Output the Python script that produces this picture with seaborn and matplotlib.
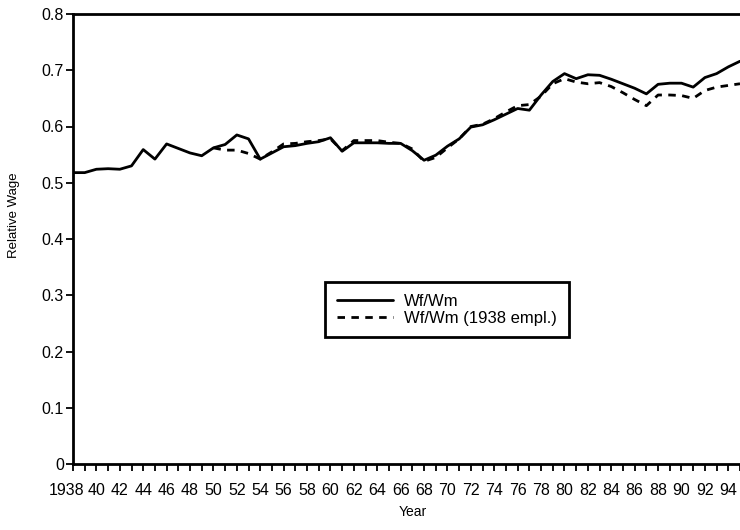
import matplotlib
matplotlib.use("Agg")
import matplotlib.pyplot as plt
import matplotlib.transforms as mtransforms
import seaborn as sns
import pandas as pd

# Relative wage of women to men
years = list(range(1938, 1996))
wf_wm = [0.518, 0.518, 0.524, 0.525, 0.524, 0.530, 0.559, 0.542, 0.569, 0.561,
         0.553, 0.548, 0.562, 0.568, 0.585, 0.578, 0.542, 0.553, 0.564, 0.566,
         0.570, 0.573, 0.580, 0.556, 0.571, 0.571, 0.571, 0.570, 0.570, 0.557,
         0.540, 0.549, 0.565, 0.578, 0.599, 0.603, 0.612, 0.622, 0.632, 0.629,
         0.656, 0.680, 0.694, 0.685, 0.692, 0.691, 0.684, 0.676, 0.668, 0.658,
         0.675, 0.677, 0.677, 0.670, 0.687, 0.694, 0.706, 0.716]

years_1938 = list(range(1950, 1996))
wf_wm_1938 = [0.562, 0.558, 0.558, 0.552, 0.542, 0.555, 0.569, 0.570, 0.573, 0.575,
              0.578, 0.557, 0.575, 0.575, 0.575, 0.572, 0.570, 0.560, 0.538, 0.545,
              0.562, 0.578, 0.600, 0.604, 0.614, 0.626, 0.637, 0.639, 0.654, 0.676,
              0.685, 0.679, 0.676, 0.678, 0.671, 0.660, 0.648, 0.637, 0.656, 0.656,
              0.655, 0.650, 0.664, 0.670, 0.673, 0.676]

y_ticks = [0, 0.1, 0.2, 0.3, 0.4, 0.5, 0.6, 0.7, 0.8]
y_labels = ["0", "0.1", "0.2", "0.3", "0.4", "0.5", "0.6", "0.7", "0.8"]
x_major = list(range(1938, 1996, 2))
x_labels = ["1938"] + [str(y)[2:] for y in x_major[1:]]

sns.set_theme(style="ticks", rc={"text.color": "black", "axes.labelcolor": "black",
                                 "xtick.color": "black", "ytick.color": "black"})
plt.rcParams["font.family"] = ["Liberation Sans", "DejaVu Sans"]

df1 = pd.DataFrame({"year": years, "value": wf_wm})
df2 = pd.DataFrame({"year": years_1938, "value": wf_wm_1938})

fig = plt.figure(figsize=(7.4, 5.3), dpi=100)
ax = fig.add_axes([73 / 740, 66 / 530, 667 / 740, 450 / 530])

sns.lineplot(data=df1, x="year", y="value", ax=ax, color="black",
             linewidth=2.0, label="Wf/Wm")
sns.lineplot(data=df2, x="year", y="value", ax=ax, color="black",
             linewidth=2.0, linestyle="--", label="Wf/Wm (1938 empl.)")
ax.lines[1].set_dashes((2.7, 2.3))

ax.set_xlim(1938, 1994.5)
ax.set_ylim(0, 0.8)
ax.set_yticks(y_ticks)
ax.set_yticklabels(y_labels)
ax.set_xticks(x_major)
ax.set_xticklabels(x_labels)
ax.set_xticks(list(range(1939, 1996, 2)), minor=True)

ax.tick_params(axis="y", which="major", direction="out", length=5, width=1.3,
               pad=1.5, labelsize=11.5)
ax.tick_params(axis="x", which="both", direction="out", length=5, width=1.3,
               pad=9, labelsize=11.5)

# the first label sits a little left of its tick in the reference
first = ax.get_xticklabels()[0]
first.set_transform(first.get_transform() +
                    mtransforms.ScaledTranslation(-6 / 100, 0, fig.dpi_scale_trans))

for side in ["left", "bottom", "top"]:
    ax.spines[side].set_visible(True)
    ax.spines[side].set_linewidth(2.0)
    ax.spines[side].set_color("black")
ax.spines["right"].set_visible(False)

ax.set_xlabel("Year", fontsize=10)
ax.set_ylabel("Relative Wage", fontsize=9.5)
ax.xaxis.set_label_coords(0.51, -0.091)
ax.yaxis.set_label_coords(-0.0795, 0.553)

leg = ax.legend(loc="upper left", bbox_to_anchor=(0.378, 0.404),
                borderaxespad=0, fontsize=12, handlelength=3.4,
                handletextpad=0.65, fancybox=False, framealpha=1,
                edgecolor="black", labelspacing=0.1, borderpad=0.7)
leg.get_frame().set_linewidth(2.0)

fig.savefig("out.png", dpi=100)
